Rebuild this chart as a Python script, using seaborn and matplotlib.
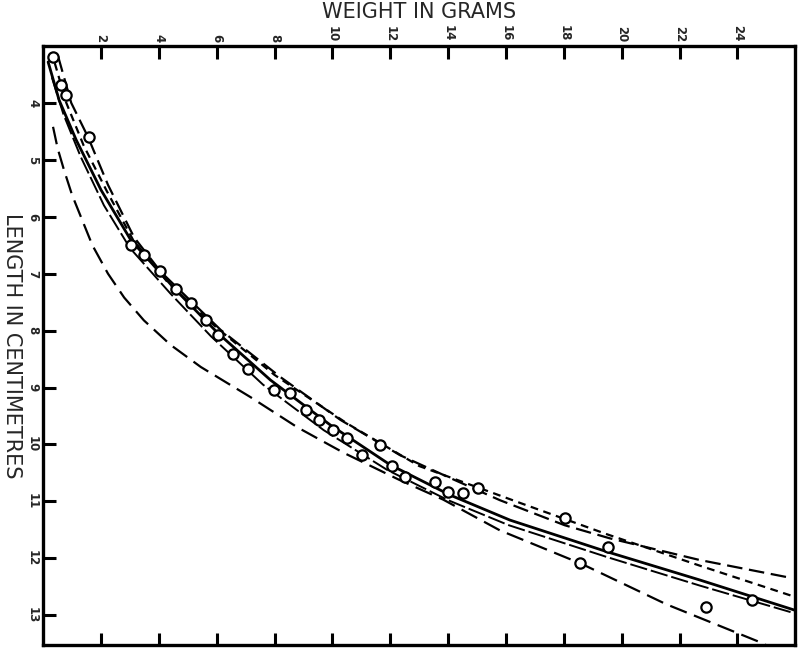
import matplotlib
matplotlib.use("Agg")
import matplotlib.pyplot as plt
import seaborn as sns
import pandas as pd

# ---- observed points (weight g, length cm) ----
obs_weight = [0.34, 0.62, 0.79, 1.59, 3.03, 3.48, 4.03, 4.59, 5.10, 5.62, 6.03, 6.55, 7.07,
              7.97, 8.55, 9.07, 9.52, 10.03, 10.52, 11.03, 11.66, 12.07, 12.52, 13.55, 14.0,
              14.52, 15.03, 18.03, 18.55, 19.52, 22.93, 24.52]
obs_length = [3.19, 3.68, 3.86, 4.60, 6.50, 6.67, 6.95, 7.27, 7.52, 7.82, 8.08, 8.41, 8.68,
              9.05, 9.10, 9.40, 9.57, 9.75, 9.89, 10.19, 10.01, 10.38, 10.57, 10.66, 10.84,
              10.86, 10.77, 11.30, 12.09, 11.80, 12.86, 12.74]

# ---- fitted curves ----
c_solid_w = [0.17, 0.55, 1.14, 2.0, 3.03, 4.59, 6.03, 7.86, 9.93, 12.0, 14.07, 16.14, 19.52, 22.69, 25.97]
c_solid_l = [3.28, 3.95, 4.65, 5.53, 6.41, 7.29, 8.04, 8.87, 9.66, 10.36, 10.89, 11.33, 11.89, 12.38, 12.91]

c_long_w = [0.3, 0.7, 1.3, 2.1, 3.0, 4.4, 5.8, 7.6, 9.7, 11.9, 14.0, 16.1, 19.5, 22.7, 26.0]
c_long_l = [3.55, 4.2, 4.95, 5.8, 6.55, 7.35, 8.1, 8.95, 9.75, 10.45, 10.98, 11.42, 11.98, 12.48, 12.97]

c_upper_w = [0.52, 0.97, 1.55, 2.24, 3.14, 4.07, 6.14, 8.21, 10.28, 12.34, 14.07, 15.79, 18.03, 19.59, 22.69, 25.9]
c_upper_l = [3.19, 4.0, 4.6, 5.44, 6.36, 6.97, 7.99, 8.82, 9.57, 10.19, 10.59, 10.98, 11.42, 11.65, 12.03, 12.35]

c_short_w = [0.4, 0.8, 1.4, 2.2, 3.1, 4.3, 6.0, 8.0, 10.5, 13.0, 16.5, 19.5, 22.7, 26.0]
c_short_l = [3.3, 4.0, 4.75, 5.55, 6.4, 7.15, 7.95, 8.78, 9.63, 10.38, 11.03, 11.58, 12.13, 12.68]

c_low_w = [0.34, 0.5, 0.72, 1.0, 1.31, 1.7, 2.24, 2.8, 3.48, 4.4, 5.45, 7.17, 8.79, 10.4, 12.3, 13.83,
           15.79, 18.62, 21.55, 24.76, 25.3]
c_low_l = [4.42, 4.8, 5.18, 5.62, 6.01, 6.5, 7.0, 7.42, 7.82, 8.25, 8.64, 9.17, 9.70, 10.15, 10.62, 10.97,
           11.51, 12.10, 12.81, 13.47, 13.6]

x_ticks = [2, 4, 6, 8, 10, 12, 14, 16, 18, 20, 22, 24]
y_ticks = [4, 5, 6, 7, 8, 9, 10, 11, 12, 13]

sns.set_theme(style="white")
plt.rcParams['font.family'] = ['DejaVu Sans']

fig = plt.figure(figsize=(8, 6.48), dpi=100)
ax = fig.add_axes([0.054, 0.005, 0.94, 0.924])

curves = [
    (c_upper_w, c_upper_l, (0, (7, 3)), 1.6),
    (c_short_w, c_short_l, (0, (3.5, 2.5)), 1.6),
    (c_solid_w, c_solid_l, '-', 2.0),
    (c_long_w, c_long_l, (0, (9, 2)), 1.4),
    (c_low_w, c_low_l, (0, (8, 3.5)), 1.6),
]
for w, l, ls, lw in curves:
    df = pd.DataFrame({"w": w, "l": l})
    sns.lineplot(data=df, x="w", y="l", sort=False, estimator=None, ax=ax,
                 color="black", linestyle=ls, linewidth=lw)

pts = pd.DataFrame({"w": obs_weight, "l": obs_length})
sns.scatterplot(data=pts, x="w", y="l", ax=ax, s=55, facecolor="white",
                edgecolor="black", linewidth=1.6, zorder=5)

ax.set_xlim(0, 26)
ax.set_ylim(13.52, 3.0)
ax.xaxis.set_ticks_position("both")
ax.tick_params(axis="x", which="both", top=True, bottom=True, labeltop=True, labelbottom=False,
               direction="in", length=9, width=2.2, color="black", labelsize=8.5, pad=3,
               labelrotation=-90)
ax.tick_params(axis="y", left=True, direction="in", length=9, width=2.2, color="black",
               labelsize=8.5, pad=3, labelrotation=-90)
ax.set_xticks(x_ticks)
ax.set_yticks(y_ticks)
ax.set_xticklabels([str(t) for t in x_ticks], fontweight="bold")
ax.set_yticklabels([str(t) for t in y_ticks], fontweight="bold", va="center")
for s in ax.spines.values():
    s.set_linewidth(2.4)
    s.set_color("black")
ax.set_xlabel("WEIGHT IN GRAMS", fontsize=15)
ax.xaxis.set_label_position("top")
ax.xaxis.label.set_va("center")
ax.xaxis.set_label_coords(0.5, 1.056)
ax.set_ylabel("LENGTH IN CENTIMETRES", fontsize=15, rotation=-90, va="center", ha="center")
ax.yaxis.set_label_coords(-0.042, 0.5)
ax.grid(False)

fig.savefig("out.png", dpi=100)
